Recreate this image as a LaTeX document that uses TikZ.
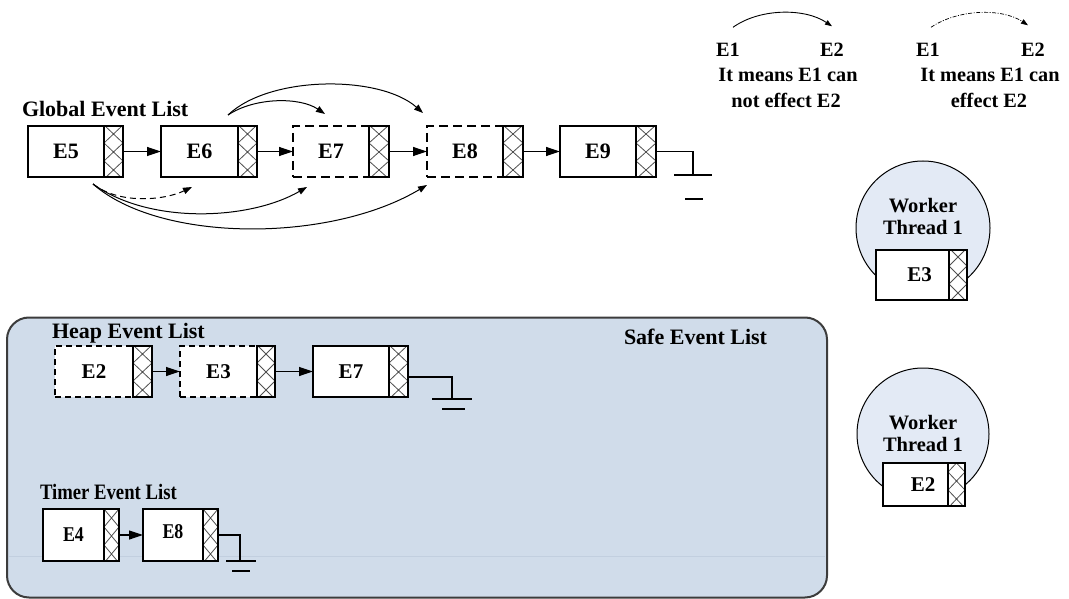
\documentclass[tikz,border=0pt]{standalone}
\usepackage{fontspec}
\usepackage{graphicx}
\setmainfont{Liberation Serif}
\usetikzlibrary{arrows.meta,calc}
\definecolor{safefill}{HTML}{D0DCEA}
\definecolor{safeline}{HTML}{C2CFDF}
\definecolor{safeborder}{HTML}{3C3C3C}
\definecolor{circfill}{HTML}{E3EAF5}
\definecolor{hatchcol}{HTML}{505050}
\begin{document}
\begin{tikzpicture}[x=1pt,y=-1pt,
  every node/.style={inner sep=0pt, outer sep=0pt},
  evfont/.style={font=\bfseries\fontsize{22}{24}\selectfont},
  smfont/.style={font=\bfseries\fontsize{21}{23}\selectfont},
  mainbox/.style={draw, fill=white, line width=1.3pt, minimum height=51, evfont},
  dbox/.style={mainbox, dash pattern=on 9pt off 5pt},
  hdbox/.style={mainbox, smfont, dash pattern=on 6pt off 4pt},
  hbox/.style={draw, fill=white, line width=1.3pt, minimum height=51, minimum width=19,
    path picture={
      \foreach \a/\b in {-20pt/-2pt,-2pt/16pt,16pt/34pt,34pt/52pt,52pt/70pt}{
        \draw[hatchcol, line width=0.8pt]
          ([yshift=\a]path picture bounding box.south west) -- ([yshift=\b]path picture bounding box.south east)
          ([yshift=\b]path picture bounding box.south west) -- ([yshift=\a]path picture bounding box.south east);
      }}},
  link/.style={line width=1.2pt, -{Triangle[length=14pt,width=9pt]}},
  curv/.style={line width=1pt, -{Triangle[length=9pt,width=6.5pt]}},
  legarc/.style={line width=0.9pt, -{Triangle[length=7pt,width=5pt]}},
  gnd/.style={line width=1.3pt},
  lbl/.style={evfont, anchor=base west},
  wfont/.style={font=\bfseries\fontsize{20.5}{22}\selectfont, align=center},
  lgfont/.style={font=\bfseries\fontsize{20.3}{22}\selectfont},
]
\useasboundingbox (0,0) rectangle (1069,599);

% ---------- Safe event list container ----------
\node[draw=safeborder, fill=safefill, line width=2pt, rounded corners=22pt,
      minimum width=820, minimum height=280] (safe) at (417,457.5) {};
\draw[safeline, line width=0.8pt] (9,556) -- (825,556);
\node[lbl] (safelbl) at (624,344) {Safe Event List};

% ---------- Global event list ----------
\node[lbl] (glbl) at (22,117) {Global Event List};
\node[mainbox, minimum width=76] (g5) at (66,151.5) {E5};
\node[hbox, anchor=west] (g5h) at (g5.east) {};
\node[mainbox, minimum width=77] (g6) at (199.5,151.5) {E6};
\node[hbox, anchor=west] (g6h) at (g6.east) {};
\node[dbox, minimum width=76] (g7) at (331,151.5) {E7};
\node[hbox, anchor=west, minimum width=20] (g7h) at (g7.east) {};
\node[dbox, minimum width=76] (g8) at (465,151.5) {E8};
\node[hbox, anchor=west, minimum width=20] (g8h) at (g8.east) {};
\node[mainbox, minimum width=76] (g9) at (598,151.5) {E9};
\node[hbox, anchor=west, minimum width=20] (g9h) at (g9.east) {};

\draw[link] (g5h.east) -- (g6.west);
\draw[link] (g6h.east) -- (g7.west);
\draw[link] (g7h.east) -- (g8.west);
\draw[link] (g8h.east) -- (g9.west);

\coordinate (g9a) at (693,151.5);
\coordinate (g9b) at (693,175);
\draw[gnd] (g9h.east) -- (g9a) -- (g9b);
\draw[gnd] ($(g9b)+(-19,0)$) -- ($(g9b)+(19,0)$);
\draw[gnd] ($(g9b)+(-8,24)$) -- ($(g9b)+(10,24)$);

% curved arrows above
\coordinate (s6) at ($(g6.north east)+(-10,-11)$);
\coordinate (t7) at ($(g7.north)+(-6,-12)$);
\coordinate (t8) at ($(g8.north west)+(-4,-13)$);
\draw[curv] (s6) .. controls (255,97) and (300,97) .. (t7);
\draw[curv] (s6) .. controls (270,75) and (380,75) .. (t8);

% curved arrows below
\coordinate (s5) at ($(g5.south)+(27,7)$);
\coordinate (b6) at ($(g6.south)+(-7.5,10)$);
\coordinate (b7) at ($(g7.south west)+(14,10)$);
\coordinate (b8) at ($(g8.south west)+(0,8)$);
\draw[curv, dash pattern=on 6pt off 4pt] (s5) .. controls (120,205) and (165,200) .. (b6);
\draw[curv] (s5) .. controls (150,225) and (250,220) .. (b7);
\draw[curv] (s5) .. controls (160,243) and (330,243) .. (b8);

% ---------- Legend ----------
\node[lgfont] (la1) at (728,50) {E1};
\node[lgfont] (la2) at (832,50) {E2};
\node[lgfont] (la3) at (788,75) {It means E1 can};
\node[lgfont] (la4) at (786,100) {not effect E2};
\coordinate (las) at ($(la1.north)+(5,-16)$);
\coordinate (lae) at ($(la2.north)+(0,-17)$);
\draw[legarc] (las) .. controls (760,8) and (805,8) .. (lae);

\node[lgfont] (lb1) at (928,50) {E1};
\node[lgfont] (lb2) at (1033,50) {E2};
\node[lgfont] (lb3) at (990,75) {It means E1 can};
\node[lgfont] (lb4) at (989,100) {effect E2};
\coordinate (lbs) at ($(lb1.north)+(3,-16)$);
\coordinate (lbe) at ($(lb2.north)+(-5,-18)$);
\draw[legarc, line width=0.7pt, dash pattern=on 4pt off 1.5pt on 1pt off 1.5pt] (lbs) .. controls (958,9) and (1002,8) .. (lbe);

% ---------- Heap event list ----------
\node[lbl] (hlbl) at (52,338) {Heap Event List};
\node[hdbox, minimum width=78] (h2) at (94,371.5) {E2};
\node[hbox, anchor=west] (h2h) at (h2.east) {};
\node[hdbox, minimum width=77] (h3) at (218.5,371.5) {E3};
\node[hbox, anchor=west, minimum width=18] (h3h) at (h3.east) {};
\node[mainbox, smfont, minimum width=76] (h7) at (351,371.5) {E7};
\node[hbox, anchor=west] (h7h) at (h7.east) {};
\draw[link] (h2h.east) -- (h3.west);
\draw[link] (h3h.east) -- (h7.west);
\coordinate (h7a) at (452,377);
\coordinate (h7b) at (452,399);
\draw[gnd] ($(h7h.east)+(0,5.5)$) -- (h7a) -- (h7b);
\draw[gnd] ($(h7b)+(-20,0)$) -- ($(h7b)+(20,0)$);
\draw[gnd] ($(h7b)+(-10,10)$) -- ($(h7b)+(13,10)$);

% ---------- Timer event list ----------
\node[lbl] (tlbl) at (40,499) {\scalebox{0.85}[1]{Timer Event List}};
\node[mainbox, smfont, minimum width=61, minimum height=52] (t4) at (73.5,535) {\raisebox{-4pt}{\scalebox{0.85}[1]{E4}}};
\node[hbox, anchor=west, minimum width=15, minimum height=52] (t4h) at (t4.east) {};
\node[mainbox, smfont, minimum width=60, minimum height=52] (t8) at (173,535) {\raisebox{6pt}{\scalebox{0.85}[1]{E8}}};
\node[hbox, anchor=west, minimum width=15, minimum height=52] (t8h) at (t8.east) {};
\draw[link] (t4h.east) -- (t8.west);
\coordinate (t8a) at (240,535);
\coordinate (t8b) at (240,561);
\draw[gnd] (t8h.east) -- (t8a) -- (t8b);
\draw[gnd] ($(t8b)+(-14,0)$) -- ($(t8b)+(16,0)$);
\draw[gnd] ($(t8b)+(-8,10)$) -- ($(t8b)+(10,10)$);

% ---------- Worker threads ----------
\node[circle, draw, line width=1pt, fill=circfill, minimum size=134] (w1) at (923,228) {};
\node[wfont] (w1t) at (923,216) {Worker\\Thread 1};
\node[mainbox, smfont, minimum width=73, minimum height=50] (w1e) at (912.5,275) {\hspace{14pt}E3};
\node[hbox, anchor=west, minimum width=18, minimum height=50] (w1h) at (w1e.east) {};

\node[circle, draw, line width=1pt, fill=circfill, minimum size=132] (w2) at (923,434) {};
\node[wfont] (w2t) at (923,433) {Worker\\Thread 1};
\node[mainbox, smfont, minimum width=65, minimum height=43] (w2e) at (915.5,484.5) {\hspace{15pt}E2};
\node[hbox, anchor=west, minimum width=17, minimum height=43] (w2h) at (w2e.east) {};
\end{tikzpicture}
\end{document}
